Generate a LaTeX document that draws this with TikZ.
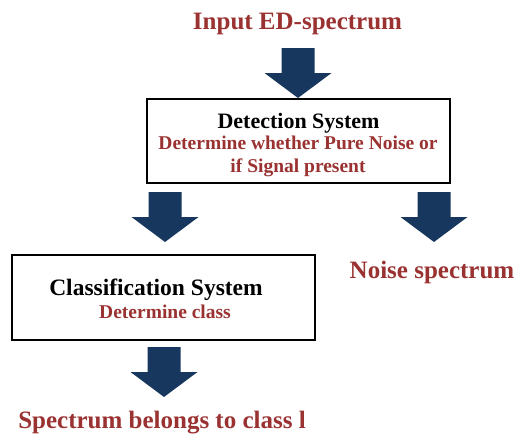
\documentclass[tikz,border=0pt]{standalone}
\usepackage{fontspec}
\setmainfont{Liberation Serif}
\definecolor{txtred}{RGB}{155,50,50}
\definecolor{navy}{RGB}{23,55,94}
\begin{document}
\begin{tikzpicture}[x=1pt,y=-1pt,
  redtxt/.style={text=txtred,font=\bfseries\fontsize{25}{28}\selectfont,inner sep=0pt,anchor=base},
  boxnode/.style={draw=black,line width=1.2pt,fill=white,inner sep=0pt},
  titletxt/.style={font=\bfseries\fontsize{22}{24}\selectfont,inner sep=0pt,anchor=base},
  subtxt/.style={text=txtred,font=\bfseries\fontsize{19.5}{22}\selectfont,inner sep=0pt,anchor=base},
  barrow/.pic={\fill[navy] (-16.5,0) -- (16.5,0) -- (16.5,25) -- (33.5,25) -- (0,50) -- (-33.5,25) -- (-16.5,25) -- cycle;}
]
\useasboundingbox (0,0) rectangle (518,437);
\node[redtxt] (input) at (297.5,29) {Input ED-spectrum};
\pic at (298,48) {barrow};
\node[boxnode,minimum width=303pt,minimum height=84pt] (det) at (298.5,141) {};
\node[titletxt] (dett) at (298.5,128) {Detection System};
\node[subtxt] (dets1) at (298,149) {Determine whether Pure Noise or};
\node[subtxt] (dets2) at (298,172) {if Signal present};
\pic at (165,192) {barrow};
\pic at (434,192) {barrow};
\node[redtxt] (noise) at (432,278) {Noise spectrum};
\node[boxnode,minimum width=303pt,minimum height=85pt] (cls) at (163.5,297.5) {};
\node[titletxt,font=\bfseries\fontsize{23.5}{26}\selectfont] (clst) at (156,295) {Classification System};
\node[subtxt] (clss) at (165,318) {Determine class};
\pic at (164,347) {barrow};
\node[redtxt] (out) at (162,428) {Spectrum belongs to class l};
\end{tikzpicture}
\end{document}
